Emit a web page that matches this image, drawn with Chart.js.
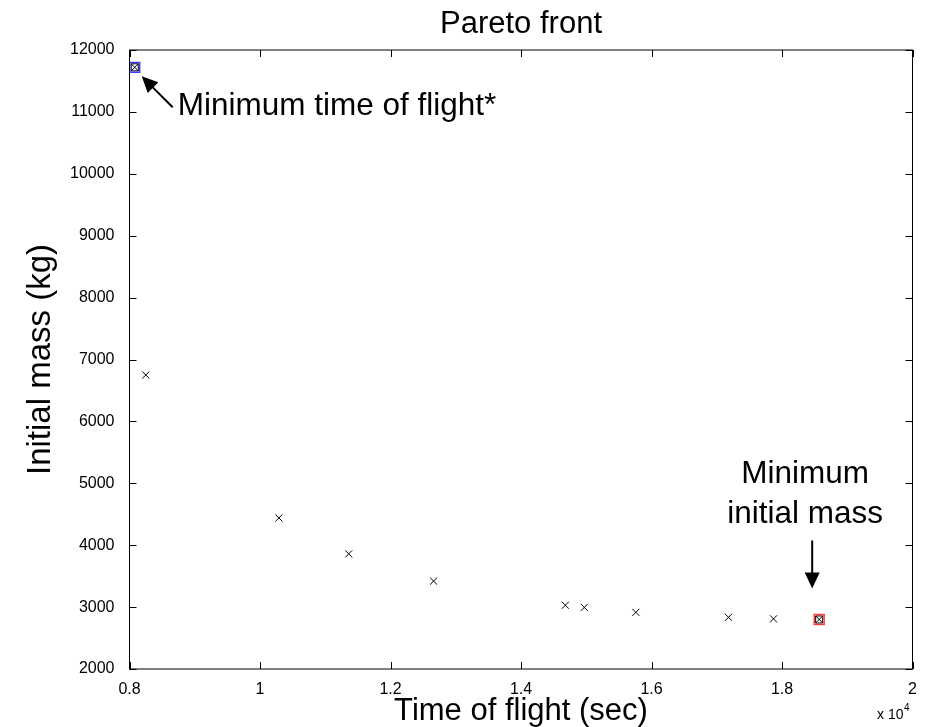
<!DOCTYPE html>
<html>
<head>
<meta charset="utf-8">
<script src="https://cdn.jsdelivr.net/npm/chart.js@4/dist/chart.umd.min.js"></script>
<style>
  body { margin: 0; background: #fff; }
  canvas { display: block; }
</style>
</head>
<body>
<canvas id="paretoChart" width="927" height="727"></canvas>
<script>
'use strict';

// pareto front points (time of flight in sec, initial mass in kg)
var timeOfFlight = [8080, 8250, 10290, 11360, 12660, 14680, 14970, 15760, 17180, 17870, 18570];
var initialMass  = [11720, 6750, 4440, 3860, 3420, 3030, 2995, 2915, 2835, 2810, 2800];

// the two end points of the front get a coloured box
var minTimeIdx = 0;
var minMassIdx = 10;

var xTicks = [8000, 10000, 12000, 14000, 16000, 18000, 20000];
var yTicks = [2000, 3000, 4000, 5000, 6000, 7000, 8000, 9000, 10000, 11000, 12000];

var font = "'Liberation Sans', Arial, sans-serif";

function pts(idx) {
    return idx.map(function (i) { return { x: timeOfFlight[i], y: initialMass[i] }; });
}

var allIdx = timeOfFlight.map(function (v, i) { return i; });

// matlab style frame, inside ticks, titles and arrows
var decorPlugin = {
    id: 'decor',
    afterDraw: function (chart) {
        var ctx = chart.ctx;
        var a = chart.chartArea;
        var xs = chart.scales.x;
        var ys = chart.scales.y;
        var tl = 7;

        ctx.save();
        ctx.strokeStyle = '#000';
        ctx.lineWidth = 1;
        ctx.strokeRect(a.left, a.top, a.right - a.left, a.bottom - a.top);

        ctx.beginPath();
        xTicks.forEach(function (v) {
            var px = Math.round(xs.getPixelForValue(v)) + 0.5;
            ctx.moveTo(px, a.bottom); ctx.lineTo(px, a.bottom - tl);
            ctx.moveTo(px, a.top); ctx.lineTo(px, a.top + tl);
        });
        yTicks.forEach(function (v) {
            var py = Math.round(ys.getPixelForValue(v)) + 0.5;
            ctx.moveTo(a.left, py); ctx.lineTo(a.left + tl, py);
            ctx.moveTo(a.right, py); ctx.lineTo(a.right - tl, py);
        });
        ctx.stroke();

        ctx.fillStyle = '#000';
        ctx.textAlign = 'center';
        ctx.textBaseline = 'alphabetic';
        ctx.font = '31px ' + font;
        ctx.fillText('Pareto front', (a.left + a.right) / 2, 33);
        ctx.fillText('Time of flight (sec)', (a.left + a.right) / 2, 720);

        ctx.save();
        ctx.translate(50, (a.top + a.bottom) / 2);
        ctx.rotate(-Math.PI / 2);
        ctx.font = '33px ' + font;
        ctx.fillText('Initial mass (kg)', 0, 0);
        ctx.restore();

        // exponent label
        ctx.textAlign = 'left';
        ctx.font = '14px ' + font;
        ctx.fillText('x 10', 877, 719);
        ctx.font = '10px ' + font;
        ctx.fillText('4', 904, 711);

        // arrow to min time of flight
        var p0x = xs.getPixelForValue(timeOfFlight[minTimeIdx]);
        var p0y = ys.getPixelForValue(initialMass[minTimeIdx]);
        drawArrow(ctx, p0x + 38, p0y + 40, p0x + 7, p0y + 9);
        ctx.font = '31.5px ' + font;
        ctx.textAlign = 'left';
        ctx.fillText('Minimum time of flight*', p0x + 43, p0y + 48);

        // arrow to min initial mass
        var p1x = xs.getPixelForValue(timeOfFlight[minMassIdx]);
        var p1y = ys.getPixelForValue(initialMass[minMassIdx]);
        drawArrow(ctx, p1x - 7, p1y - 79, p1x - 7, p1y - 31);
        ctx.textAlign = 'center';
        ctx.fillText('Minimum', p1x - 14, p1y - 136);
        ctx.fillText('initial mass', p1x - 14, p1y - 96);
        ctx.restore();
    }
};

function drawArrow(ctx, x1, y1, x2, y2) {
    var ang = Math.atan2(y2 - y1, x2 - x1);
    var head = 16, wid = 7.5;
    ctx.beginPath();
    ctx.lineWidth = 2;
    ctx.moveTo(x1, y1);
    ctx.lineTo(x2 - Math.cos(ang) * head * 0.8, y2 - Math.sin(ang) * head * 0.8);
    ctx.stroke();
    ctx.beginPath();
    ctx.moveTo(x2, y2);
    ctx.lineTo(x2 - Math.cos(ang) * head - Math.sin(ang) * wid, y2 - Math.sin(ang) * head + Math.cos(ang) * wid);
    ctx.lineTo(x2 - Math.cos(ang) * head + Math.sin(ang) * wid, y2 - Math.sin(ang) * head - Math.cos(ang) * wid);
    ctx.closePath();
    ctx.fill();
}

var ctx = document.getElementById('paretoChart').getContext('2d');

var chart = new Chart(ctx, {
    type: 'scatter',
    data: {
        datasets: [{
            label: 'min time box',
            data: pts([minTimeIdx]),
            pointStyle: 'rect',
            pointRadius: 7,
            backgroundColor: 'rgba(0,0,0,0)',
            borderColor: '#3a3aff',
            borderWidth: 1.5
        }, {
            label: 'min mass box',
            data: pts([minMassIdx]),
            pointStyle: 'rect',
            pointRadius: 7,
            backgroundColor: 'rgba(0,0,0,0)',
            borderColor: '#ff3a3a',
            borderWidth: 1.5
        }, {
            label: 'inner box',
            data: pts([minTimeIdx, minMassIdx]),
            pointStyle: 'rect',
            pointRadius: 5,
            backgroundColor: 'rgba(0,0,0,0)',
            borderColor: '#000',
            borderWidth: 1
        }, {
            label: 'front',
            data: pts(allIdx),
            pointStyle: 'crossRot',
            pointRadius: 5,
            borderColor: '#000',
            borderWidth: 1
        }]
    },
    options: {
        responsive: false,
        animation: false,
        events: [],
        layout: { padding: { left: 0, right: 14.5, top: 50, bottom: 0 } },
        plugins: {
            legend: { display: false },
            tooltip: { enabled: false }
        },
        scales: {
            x: {
                type: 'linear',
                min: 8000,
                max: 20000,
                afterFit: function (scale) { scale.height = 58; },
                afterBuildTicks: function (scale) {
                    scale.ticks = xTicks.map(function (v) { return { value: v }; });
                },
                grid: { display: false },
                border: { display: false },
                ticks: {
                    color: '#000',
                    padding: 3,
                    maxRotation: 0,
                    font: { family: font, size: 16 },
                    callback: function (v) { return String(Math.round(v / 1000) / 10); }
                }
            },
            y: {
                type: 'linear',
                min: 2000,
                max: 12000,
                afterFit: function (scale) { scale.width = 129.5; },
                afterBuildTicks: function (scale) {
                    scale.ticks = yTicks.map(function (v) { return { value: v }; });
                },
                grid: { display: false },
                border: { display: false },
                ticks: {
                    color: '#000',
                    padding: 7,
                    font: { family: font, size: 16 },
                    callback: function (v) { return String(v); }
                }
            }
        }
    },
    plugins: [decorPlugin]
});
</script>
</body>
</html>
